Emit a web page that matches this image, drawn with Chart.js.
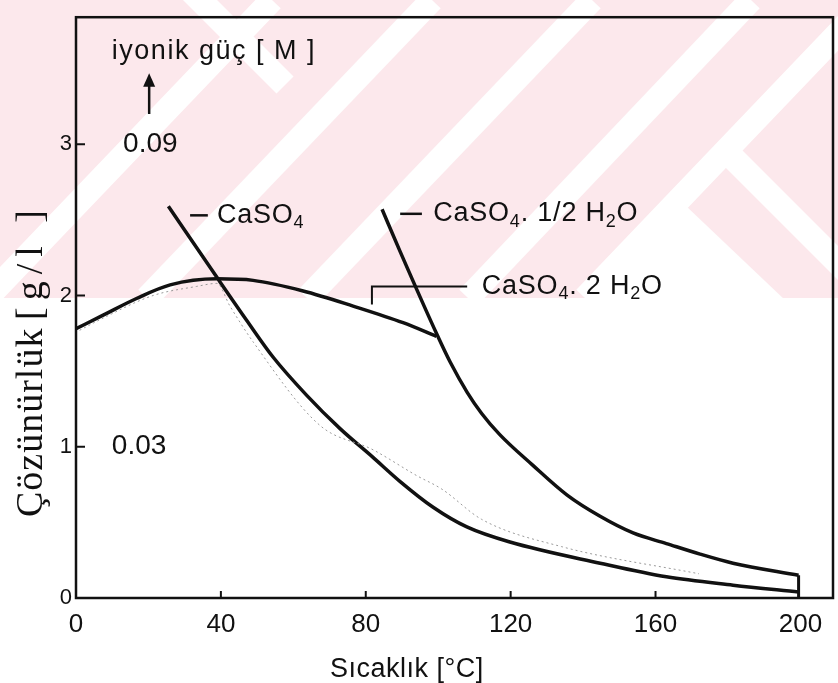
<!DOCTYPE html>
<html>
<head>
<meta charset="utf-8">
<script src="https://cdn.jsdelivr.net/npm/chart.js@4.4.1/dist/chart.umd.min.js"></script>
<style>
  html, body { margin: 0; padding: 0; background: #fff; }
  #wrap { width: 838px; height: 683px; }
</style>
</head>
<body>
<div id="wrap"><canvas id="chart"></canvas></div>
<script>
// values (temperature in C, solubility in g/l)
const gypsumT = [0, 7.5, 16.7, 26, 38.9, 48.9, 62.7, 76.5, 90.3, 99.5];
const gypsumS = [1.78, 1.87, 1.98, 2.07, 2.11, 2.10, 2.03, 1.93, 1.82, 1.73];

const anhydT = [25.5, 38.9, 47, 54.5, 63.7, 72.9, 82, 89.5, 98.6, 107.9, 119.8, 144.7, 163, 181.4, 199.5];
const anhydS = [2.59, 2.12, 1.84, 1.59, 1.34, 1.12, 0.93, 0.77, 0.60, 0.47, 0.37, 0.23, 0.14, 0.085, 0.04];

const hemiT = [84.5, 89.5, 99.7, 103.3, 108, 112, 117, 126, 135.6, 144.7, 153.8, 163, 172.3, 181.4, 199.5];
const hemiS = [2.57, 2.29, 1.74, 1.56, 1.36, 1.22, 1.08, 0.88, 0.68, 0.54, 0.43, 0.36, 0.29, 0.23, 0.15];

// faint dotted traces in the scan
const dotT = [1, 6.6, 21.3, 33.3, 38.9, 42.5, 49, 67.4, 82, 94, 101, 112, 134, 172];
const dotS = [1.77, 1.84, 2.0, 2.06, 2.08, 1.93, 1.69, 1.14, 0.98, 0.81, 0.72, 0.52, 0.34, 0.16];

const endT = [199.5, 199.5];
const endS = [0, 0.15];

const xTicks = [0, 40, 80, 120, 160, 200];
const yTicks = [0, 1, 2, 3];

const pts = (xs, ys) => xs.map((x, i) => ({x: x, y: ys[i]}));

const sans = 'Liberation Sans, Arial, sans-serif';
const serif = 'Liberation Serif, Times New Roman, serif';

const curve = (data, extra) => Object.assign({
  data: data,
  borderColor: '#111',
  borderWidth: 3.5,
  pointRadius: 0,
  cubicInterpolationMode: 'monotone',
  fill: false
}, extra || {});

// chemical formula with subscripts
function chem(ctx, parts, x, y, size) {
  let cx = x;
  parts.forEach(p => {
    const sub = Array.isArray(p);
    const t = sub ? p[0] : p;
    ctx.font = (sub ? Math.round(size * 0.68) : size) + 'px ' + sans;
    ctx.fillText(t, cx, sub ? y + size * 0.3 : y);
    cx += ctx.measureText(t).width;
  });
}

const scanPlugin = {
  id: 'scan',
  beforeDraw(chart) {
    // pink watermark of the scanned page
    const c = chart.ctx;
    c.save();
    c.beginPath();
    c.rect(0, 0, chart.width, 298);
    c.clip();
    c.fillStyle = '#fce8ec';
    c.fillRect(0, 0, chart.width, 298);
    c.fillStyle = '#fff';
    c.strokeStyle = '#fff';
    c.lineWidth = 24;
    [[-13, 298, 272, 0], [147, 298, 432, 0], [307, 298, 592, 0], [468, 298, 751, 0],
     [585, 298, 870, 0], [190, -10, 285, 85], [725, 150, 860, 285]].forEach(b => {
      c.beginPath();
      c.moveTo(b[0], b[1]);
      c.lineTo(b[2], b[3]);
      c.stroke();
    });
    c.beginPath();
    c.moveTo(685, 205); c.lineTo(785, 300); c.lineTo(585, 300);
    c.closePath(); c.fill();
    c.restore();
  },
  afterDraw(chart) {
    const c = chart.ctx;
    const xs = chart.scales.x, ys = chart.scales.y;
    const a = chart.chartArea;
    const X = v => xs.getPixelForValue(v), Y = v => ys.getPixelForValue(v);
    c.save();
    c.strokeStyle = '#111';
    c.fillStyle = '#111';
    c.lineWidth = 2.5;
    c.strokeRect(a.left, a.top, a.right - a.left, a.bottom - a.top);

    // ticks point inward
    c.lineWidth = 2;
    xTicks.slice(1, -1).forEach(v => {
      c.beginPath(); c.moveTo(X(v), a.bottom); c.lineTo(X(v), a.bottom - 7); c.stroke();
    });
    yTicks.slice(1).forEach(v => {
      c.beginPath(); c.moveTo(a.left, Y(v)); c.lineTo(a.left + 9, Y(v)); c.stroke();
    });

    c.textBaseline = 'middle';
    c.textAlign = 'left';
    c.letterSpacing = '1.5px';
    c.font = '27px ' + sans;
    c.fillText('iyonik güç [ M ]', X(9.9), Y(3.61));
    c.letterSpacing = '0px';
    c.font = '28px ' + sans;
    c.fillText('0.09', X(13), Y(3.0));
    c.fillText('0.03', X(9.9), Y(1.0));

    // arrow up to the ionic strength label
    c.lineWidth = 2.5;
    c.beginPath(); c.moveTo(X(20.2), Y(3.2)); c.lineTo(X(20.2), Y(3.42)); c.stroke();
    c.beginPath();
    c.moveTo(X(20.2), Y(3.47));
    c.lineTo(X(20.2) - 6, Y(3.38));
    c.lineTo(X(20.2) + 6, Y(3.38));
    c.closePath(); c.fill();

    // curve labels
    c.letterSpacing = '0.8px';
    c.beginPath(); c.moveTo(X(31.5), Y(2.53)); c.lineTo(X(36.4), Y(2.53)); c.stroke();
    chem(c, ['CaSO', ['4']], X(38.9), Y(2.53), 27);

    c.beginPath(); c.moveTo(X(89.5), Y(2.54)); c.lineTo(X(95.5), Y(2.54)); c.stroke();
    chem(c, ['CaSO', ['4'], '. 1/2 H', ['2'], 'O'], X(98.6), Y(2.54), 27);

    c.lineWidth = 2;
    c.beginPath();
    c.moveTo(X(81.7), Y(1.94)); c.lineTo(X(81.7), Y(2.06)); c.lineTo(X(108), Y(2.06));
    c.stroke();
    chem(c, ['CaSO', ['4'], '. 2 H', ['2'], 'O'], X(112), Y(2.06), 27);

    // axis titles
    c.letterSpacing = '0.5px';
    c.font = '27px ' + sans;
    c.textBaseline = 'alphabetic';
    c.fillText('Sıcaklık [°C]', 330, 677);

    c.save();
    c.translate(42, 517);
    c.rotate(-Math.PI / 2);
    c.font = '38px ' + serif;
    c.letterSpacing = '1px';
    c.fillText('Çözünürlük', 0, 0);
    c.letterSpacing = '7px';
    c.fillText('[g/l ]', 197, 0);
    c.restore();

    c.restore();
  }
};

const ctx = document.getElementById('chart');
new Chart(ctx, {
  type: 'line',
  data: {
    datasets: [
      curve(pts(dotT, dotS), {borderColor: '#9a9a9a', borderWidth: 1, borderDash: [2, 3]}),
      curve(pts(gypsumT, gypsumS)),
      curve(pts(anhydT, anhydS)),
      curve(pts(hemiT, hemiS)),
      curve(pts(endT, endS), {borderWidth: 3, cubicInterpolationMode: 'default', tension: 0})
    ]
  },
  options: {
    responsive: true,
    maintainAspectRatio: false,
    animation: false,
    layout: { padding: { top: 8, right: 5, left: 0, bottom: 0 } },
    scales: {
      x: {
        type: 'linear',
        min: 0,
        max: 209,
        afterBuildTicks: s => { s.ticks = xTicks.map(v => ({value: v})); },
        afterFit: s => { s.height = 85; },
        grid: { display: false, drawTicks: false },
        border: { display: false },
        ticks: { color: '#111', padding: 11, font: { family: sans, size: 26 } }
      },
      y: {
        type: 'linear',
        min: 0,
        max: 3.84,
        afterBuildTicks: s => { s.ticks = yTicks.map(v => ({value: v})); },
        afterFit: s => { s.width = 76; },
        grid: { display: false, drawTicks: false },
        border: { display: false },
        ticks: { color: '#111', padding: 4, font: { family: sans, size: 22 } }
      }
    },
    plugins: {
      legend: { display: false },
      tooltip: { enabled: false }
    }
  },
  plugins: [scanPlugin]
});
</script>
</body>
</html>
